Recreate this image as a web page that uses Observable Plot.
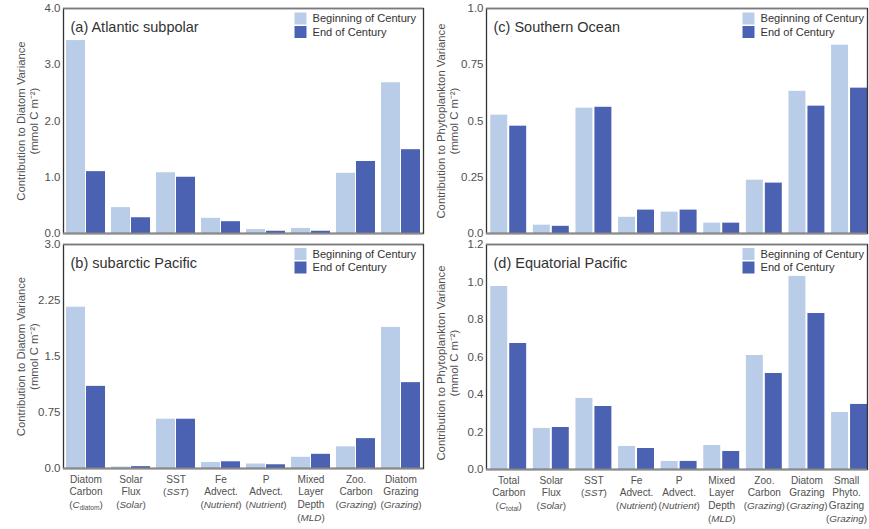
<!DOCTYPE html>
<html>
<head>
<meta charset="utf-8">
<script src="https://cdn.jsdelivr.net/npm/d3@7"></script>
<script src="https://cdn.jsdelivr.net/npm/@observablehq/plot@0.6"></script>
<style>
  html, body { margin: 0; padding: 0; background: #fff; }
  #wrap { position: relative; width: 869px; height: 529px; overflow: hidden; }
  .panel { position: absolute; }
</style>
</head>
<body>
<div id="wrap">
  <div id="pa" class="panel" style="left:0;top:0"></div>
  <div id="pb" class="panel" style="left:0;top:236px"></div>
  <div id="pc" class="panel" style="left:430px;top:0"></div>
  <div id="pd" class="panel" style="left:430px;top:236px"></div>
</div>
<script>
// ---------- data ----------
const series = ["Beginning of Century", "End of Century"];
const seriesColors = ["#b9cde9", "#4b62b2"];

const catsDiatom = ["Diatom Carbon", "Solar Flux", "SST", "Fe Advect.", "P Advect.", "Mixed Layer Depth", "Zoo. Carbon", "Diatom Grazing"];
const labelsDiatom = ["Diatom\nCarbon\n(C_diatom)", "Solar\nFlux\n(Solar)", "SST\n(SST)", "Fe\nAdvect.\n(Nutrient)", "P\nAdvect.\n(Nutrient)", "Mixed\nLayer\nDepth\n(MLD)", "Zoo.\nCarbon\n(Grazing)", "Diatom\nGrazing\n(Grazing)"];

const catsPhyto = ["Total Carbon", "Solar Flux", "SST", "Fe Advect.", "P Advect.", "Mixed Layer Depth", "Zoo. Carbon", "Diatom Grazing", "Small Phyto. Grazing"];
const labelsPhyto = ["Total\nCarbon\n(C_total)", "Solar\nFlux\n(Solar)", "SST\n(SST)", "Fe\nAdvect.\n(Nutrient)", "P\nAdvect.\n(Nutrient)", "Mixed\nLayer\nDepth\n(MLD)", "Zoo.\nCarbon\n(Grazing)", "Diatom\nGrazing\n(Grazing)", "Small\nPhyto.\nGrazing\n(Grazing)"];

const atlanticBegin = [3.43, 0.46, 1.08, 0.27, 0.07, 0.09, 1.07, 2.68];
const atlanticEnd   = [1.10, 0.28, 1.00, 0.21, 0.04, 0.04, 1.28, 1.49];
const pacificBegin  = [2.16, 0.02, 0.66, 0.08, 0.06, 0.15, 0.29, 1.89];
const pacificEnd    = [1.10, 0.025, 0.66, 0.09, 0.05, 0.19, 0.40, 1.15];
const southernBegin = [0.526, 0.037, 0.557, 0.072, 0.095, 0.046, 0.237, 0.632, 0.837];
const southernEnd   = [0.477, 0.032, 0.561, 0.104, 0.104, 0.046, 0.224, 0.566, 0.646];
const equatorBegin  = [0.976, 0.219, 0.379, 0.123, 0.043, 0.128, 0.608, 1.03, 0.304];
const equatorEnd    = [0.672, 0.224, 0.336, 0.112, 0.043, 0.096, 0.512, 0.832, 0.347];

const ticksA = [0, 1, 2, 3, 4];          const tickLabelsA = ["0.0", "1.0", "2.0", "3.0", "4.0"];
const ticksB = [0, 0.75, 1.5, 2.25, 3];  const tickLabelsB = ["0.0", "0.75", "1.5", "2.25", "3.0"];
const ticksC = [0, 0.25, 0.5, 0.75, 1];  const tickLabelsC = ["0.0", "0.25", "0.5", "0.75", "1.0"];
const ticksD = [0, 0.2, 0.4, 0.6, 0.8, 1.0, 1.2]; const tickLabelsD = ["0.0", "0.2", "0.4", "0.6", "0.8", "1.0", "1.2"];

const yLabelDiatom = "Contribution to Diatom Variance\n(mmol C m\u207B\u00B2)";
const yLabelPhyto = "Contribution to Phytoplankton Variance\n(mmol C m\u207B\u00B2)";

// ---------- drawing ----------
const FONT = "'Liberation Sans', Arial, sans-serif";
const TEXT = "#505050";

function panel(o) {
  const rows = o.cats.map((c, i) => ({cat: c, begin: o.begin[i], end: o.end[i]}));
  const n = o.cats.length;
  const range = o.width - o.mL - o.mR;
  const step = range / (n - o.pi + 2 * o.po);
  const bw = step * (1 - o.pi);
  const half = bw / 2 + o.gap / 2;
  const labelMap = new Map(o.cats.map((c, i) => [c, o.labels[i]]));
  const tickMap = new Map(o.ticks.map((t, i) => [t, o.tickLabels[i]]));

  const marks = [
    Plot.barY(rows, {x: "cat", y: "begin", fill: seriesColors[0], insetRight: half}),
    Plot.barY(rows, {x: "cat", y: "end", fill: seriesColors[1], insetLeft: half}),
    Plot.frame({stroke: "#333", strokeWidth: 1.3}),
    Plot.ruleY([o.ymax], {stroke: "#7a7a7a", strokeWidth: 1.6}),
    Plot.ruleY([0], {stroke: "#8a8a8a", strokeWidth: 2.2}),
    Plot.axisY({ticks: o.ticks, tickFormat: d => tickMap.get(d), tickSize: 0, tickPadding: 3, label: null, fontSize: 11.5}),
    Plot.text([o.title], {text: d => d, frameAnchor: "top-left", dx: 7, dy: 23, lineAnchor: "bottom", textAnchor: "start", fontSize: 14.5, fill: "#333"}),
    Plot.text([o.ylabel], {text: d => d, frameAnchor: "left", dx: o.ylabDx, dy: o.ylabDy || 0, rotate: -90, textAnchor: "middle", lineAnchor: "middle", lineHeight: 1.17, fontSize: 11.3, fill: TEXT})
  ];
  series.forEach((s, i) => {
    marks.push(Plot.dot([s], {frameAnchor: "top-right", dx: o.legDx, dy: o.legDy + i * 13.5, symbol: "square", r: 6 / Math.sqrt(Math.PI) * 2, fill: seriesColors[i], stroke: null}));
    marks.push(Plot.text([s], {text: d => d, frameAnchor: "top-right", dx: o.legDx + 12, dy: o.legDy + i * 13.5, textAnchor: "start", lineAnchor: "middle", fontSize: 11.1, fill: "#333"}));
  });
  if (o.showX) {
    marks.push(Plot.axisX({tickSize: 0, tickPadding: 5, tickFormat: d => labelMap.get(d), label: null, fontSize: 10.1, lineHeight: 1.27}));
  }
  const svg = Plot.plot({
    width: o.width, height: o.height,
    marginLeft: o.mL, marginRight: o.mR, marginTop: o.mT, marginBottom: o.mB,
    style: {fontFamily: FONT, color: TEXT, background: "transparent", overflow: "visible", fontSize: "11.5px"},
    x: {type: "band", domain: o.cats, paddingInner: o.pi, paddingOuter: o.po, align: o.align, round: false, axis: o.showX ? undefined : null},
    y: {domain: [0, o.ymax], axis: null},
    marks
  });
  // style the parenthesised line: italic words, upright parentheses, subscript
  const ns = "http://www.w3.org/2000/svg";
  svg.querySelectorAll('g[aria-label="x-axis tick label"] text tspan').forEach(ts => {
    const m = ts.textContent.match(/^\((.*)\)$/);
    if (!m) return;
    const inner = m[1];
    ts.textContent = "";
    ts.setAttribute("font-size", "9.9px");
    ts.appendChild(document.createTextNode("("));
    const parts = inner.split("_");
    const it = document.createElementNS(ns, "tspan");
    it.setAttribute("font-style", "italic");
    it.textContent = parts[0];
    ts.appendChild(it);
    if (parts.length > 1) {
      const sub = document.createElementNS(ns, "tspan");
      sub.setAttribute("font-size", "6.6px");
      sub.setAttribute("dy", "1.5");
      sub.textContent = parts[1];
      ts.appendChild(sub);
      const close = document.createElementNS(ns, "tspan");
      close.setAttribute("dy", "-1.5");
      close.textContent = ")";
      ts.appendChild(close);
    } else {
      ts.appendChild(document.createTextNode(")"));
    }
  });
  // keep the rightmost tick label inside the picture
  const tl = svg.querySelectorAll('g[aria-label="x-axis tick label"] text');
  if (o.showX && o.lastShift && tl.length) {
    const last = tl[tl.length - 1];
    last.setAttribute("transform", (last.getAttribute("transform") || "") + ` translate(${o.lastShift},0)`);
  }
  return svg;
}

const left = {width: 430, mL: 63, mR: 7, pi: 0.133, po: 0.067, align: 0.5, gap: 1, cats: catsDiatom, labels: labelsDiatom, ylabel: yLabelDiatom, ylabDx: -36, legDx: -123};
const right = {width: 439, mL: 56, mR: 2, pi: 0.157, po: 0.05, align: 1, gap: 2, cats: catsPhyto, labels: labelsPhyto, ylabel: yLabelPhyto, ylabDx: -39, legDx: -119};

document.getElementById("pa").appendChild(panel({...left, height: 240, mT: 8, mB: 7, begin: atlanticBegin, end: atlanticEnd, ymax: 4, ticks: ticksA, tickLabels: tickLabelsA, title: "(a) Atlantic subpolar", showX: false, legDy: 10}));
document.getElementById("pb").appendChild(panel({...left, height: 293, mT: 8, mB: 61, begin: pacificBegin, end: pacificEnd, ymax: 3, ticks: ticksB, tickLabels: tickLabelsB, title: "(b) subarctic Pacific", showX: true, legDy: 9.5}));
document.getElementById("pc").appendChild(panel({...right, height: 240, mT: 8, mB: 7, begin: southernBegin, end: southernEnd, ymax: 1, ticks: ticksC, tickLabels: tickLabelsC, title: "(c) Southern Ocean", showX: false, legDy: 10}));
document.getElementById("pd").appendChild(panel({...right, height: 293, mT: 8, mB: 60, begin: equatorBegin, end: equatorEnd, ymax: 1.2, ticks: ticksD, tickLabels: tickLabelsD, title: "(d) Equatorial Pacific", showX: true, legDy: 9.5, ylabDy: 6, lastShift: -3}));
</script>
</body>
</html>
